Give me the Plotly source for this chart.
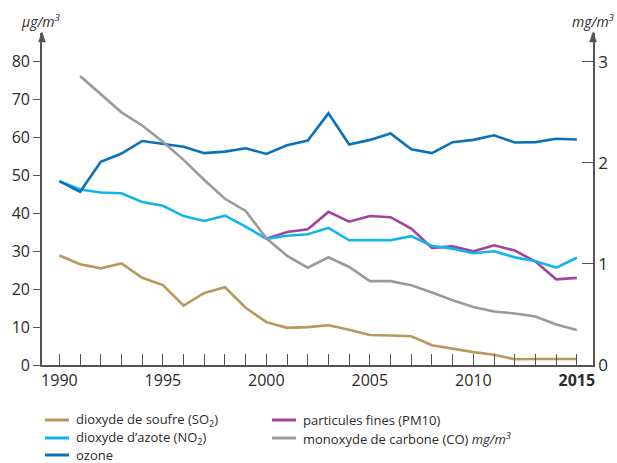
import plotly.graph_objects as go

years = list(range(1990, 2016))

so2 = [28.9, 26.6, 25.5, 26.8, 23.0, 21.1, 15.7, 19.0, 20.5, 15.1, 11.3, 9.8, 10.0,
       10.5, 9.3, 7.9, 7.8, 7.6, 5.2, 4.2, 3.4, 2.7, 1.5, 1.6, 1.6, 1.6]
no2 = [48.5, 46.3, 45.5, 45.3, 43.0, 42.0, 39.3, 38.0, 39.4, 36.5, 33.3, 34.1, 34.5,
       36.2, 32.9, 33.0, 32.9, 34.0, 31.4, 30.7, 29.5, 30.0, 28.4, 27.4, 25.7, 28.3]
ozone = [48.5, 45.7, 53.6, 55.8, 59.1, 58.3, 57.6, 55.9, 56.3, 57.2, 55.7, 58.0, 59.2,
         66.4, 58.2, 59.4, 61.1, 56.9, 55.9, 58.8, 59.4, 60.6, 58.7, 58.8, 59.7, 59.5]
pm10_years = list(range(2000, 2016))
pm10 = [33.3, 35.1, 35.8, 40.4, 37.8, 39.3, 39.0, 36.0, 30.9, 31.3, 30.0, 31.6, 30.2,
        27.3, 22.6, 23.0]
co_years = list(range(1991, 2016))
co = [2.86, 2.68, 2.50, 2.37, 2.21, 2.03, 1.83, 1.645, 1.525, 1.254, 1.08, 0.963, 1.066,
      0.97, 0.83, 0.83, 0.79, 0.717, 0.64, 0.574, 0.53, 0.51, 0.48, 0.40, 0.347]

label_years = [1990, 1995, 2000, 2005, 2010, 2015]
label_text = ["1990", "1995", "2000", "2005", "2010", "<b>2015</b>"]
left_ticks = [0, 10, 20, 30, 40, 50, 60, 70, 80]
right_ticks = [0, 1, 2, 3]

keys = ["so2", "pm10", "no2", "co", "ozone"]
names = {
    "so2": "dioxyde de soufre (SO<sub>2</sub>)",
    "pm10": "particules fines (PM10)",
    "no2": "dioxyde d\u2019azote (NO<sub>2</sub>)",
    "co": "monoxyde de carbone (CO) <i>mg/m<sup>3</sup></i>",
    "ozone": "ozone",
}
colors = {
    "so2": "#B8985C",
    "pm10": "#A2439C",
    "no2": "#11B5EC",
    "co": "#9A9A9A",
    "ozone": "#0C71B8",
}

FONT = "Open Sans"
AX = "#555555"
TXT = "#2b2b2b"
LW = 2.6

W, H = 617, 463
ML, MR, MT, MB = 42, 24, 33, 98
PW, PH = W - ML - MR, H - MT - MB


def px_x(p):
    return (p - ML) / PW


def px_y(p):
    return (H - MB - p) / PH


fig = go.Figure()
fig.add_trace(go.Scatter(x=years, y=so2, mode="lines", name=names["so2"],
                         line=dict(color=colors["so2"], width=LW)))
fig.add_trace(go.Scatter(x=pm10_years, y=pm10, mode="lines", name=names["pm10"],
                         line=dict(color=colors["pm10"], width=LW)))
fig.add_trace(go.Scatter(x=years, y=no2, mode="lines", name=names["no2"],
                         line=dict(color=colors["no2"], width=LW)))
fig.add_trace(go.Scatter(x=co_years, y=co, mode="lines", name=names["co"], yaxis="y2",
                         line=dict(color=colors["co"], width=LW)))
fig.add_trace(go.Scatter(x=years, y=ozone, mode="lines", name=names["ozone"],
                         line=dict(color=colors["ozone"], width=LW)))

YTOP = 87.6
fig.update_layout(
    width=W, height=H,
    margin=dict(l=ML, r=MR, t=MT, b=MB, autoexpand=False),
    paper_bgcolor="white", plot_bgcolor="white",
    font=dict(family=FONT, color=TXT, size=16),
    showlegend=False,
    xaxis=dict(
        range=[1989.16, 2015.78], showgrid=False, zeroline=False, automargin=False,
        showline=True, linecolor=AX, linewidth=1.6,
        tickvals=label_years, ticktext=label_text,
        ticks="inside", ticklen=11, tickcolor=AX, tickwidth=1.3,
        minor=dict(dtick=1, tick0=1990, ticks="inside", ticklen=11, tickcolor=AX, tickwidth=1.3),
        tickfont=dict(size=16, color=TXT, family=FONT),
    ),
    yaxis=dict(
        range=[0, YTOP], showgrid=False, zeroline=False, automargin=False,
        showline=True, linecolor=AX, linewidth=1.6,
        tickvals=left_ticks, ticks="outside", ticklen=7, tickcolor=AX, tickwidth=1.3,
        tickfont=dict(size=16, color=TXT, family=FONT),
    ),
    yaxis2=dict(
        range=[0, YTOP * 3 / 80], overlaying="y", side="right", automargin=False,
        showgrid=False, zeroline=False, showline=True, linecolor=AX, linewidth=1.6,
        tickvals=right_ticks, ticks="inside", ticklen=11, tickcolor=AX, tickwidth=1.3,
        tickfont=dict(size=17, color=TXT, family=FONT),
    ),
)

# axis arrowheads (filled triangles at the top of both vertical axes)
for ax_px in (ML, W - MR):
    path = "M {:.5f},{:.5f} L {:.5f},{:.5f} L {:.5f},{:.5f} Z".format(
        px_x(ax_px), px_y(MT - 1),
        px_x(ax_px - 3.5), px_y(MT + 9),
        px_x(ax_px + 3.5), px_y(MT + 9))
    fig.add_shape(type="path", xref="paper", yref="paper", path=path,
                  fillcolor=AX, line=dict(color=AX, width=0.5))

fig.add_annotation(xref="paper", yref="paper", x=px_x(41), y=px_y(21), yanchor="middle",
                   xanchor="center", showarrow=False,
                   text="<i>\u00b5g/m<sup>3</sup></i>", font=dict(size=14, color=TXT, family=FONT))
fig.add_annotation(xref="paper", yref="paper", x=px_x(593), y=px_y(21), yanchor="middle",
                   xanchor="center", showarrow=False,
                   text="<i>mg/m<sup>3</sup></i>", font=dict(size=14, color=TXT, family=FONT))

# legend (key), laid out in two columns like the reference
legend_pos = {
    "so2": (45, 420), "pm10": (272, 420),
    "no2": (45, 438), "co": (272, 438),
    "ozone": (45, 455),
}
for k in keys:
    lx, ly = legend_pos[k]
    fig.add_shape(type="line", xref="paper", yref="paper",
                  x0=px_x(lx), x1=px_x(lx + 24), y0=px_y(ly), y1=px_y(ly),
                  line=dict(color=colors[k], width=3))
    fig.add_annotation(xref="paper", yref="paper", x=px_x(lx + 30), y=px_y(ly),
                       xanchor="left", yanchor="middle", showarrow=False, borderpad=0,
                       text=names[k], font=dict(size=13, color=TXT, family=FONT))

fig.write_html("out.html", config={"displayModeBar": False},
               post_script="document.body.style.margin='0';")
